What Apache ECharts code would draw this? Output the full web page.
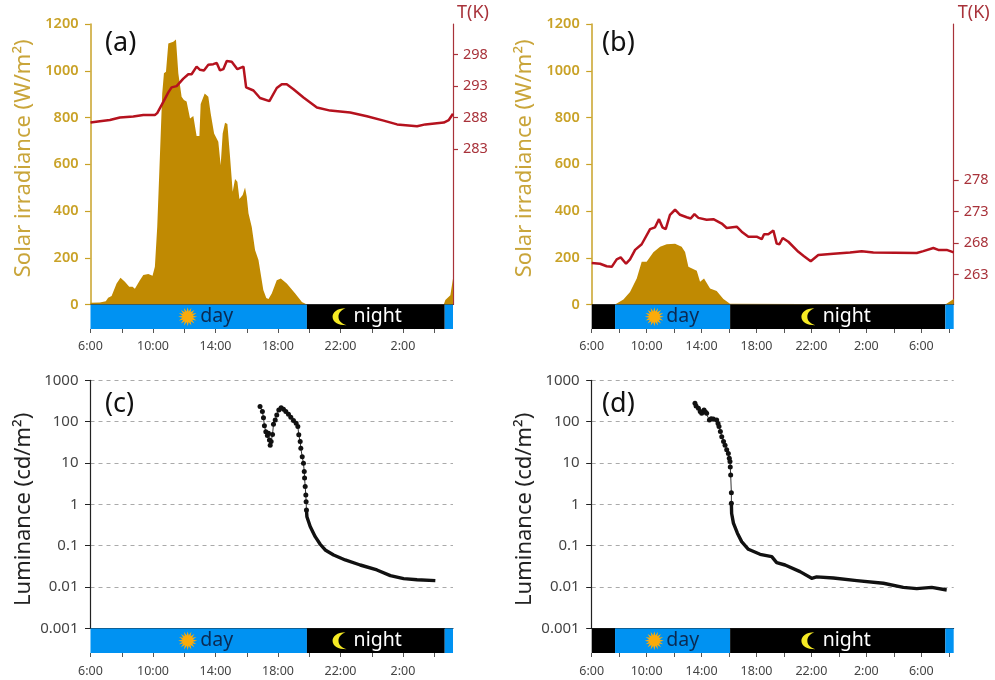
<!DOCTYPE html>
<html>
<head>
<meta charset="utf-8">
<style>html,body{margin:0;padding:0;background:#fff}#c{width:995px;height:680px}</style>
<script src="https://cdn.jsdelivr.net/npm/echarts@6/dist/echarts.min.js"></script>
</head>
<body>
<div id="c"></div>
<script>
// ---- data: [hour since 0:00 of day one, value] ----
const solarA = [[6,7],[6.6,9],[6.98,14],[7.13,29],[7.35,36],[7.67,90],[7.92,114],[8.2,97],[8.48,76],[8.69,76],[8.84,67],[9.16,104],[9.38,126],[9.7,130],[9.97,123],[10.12,161],[10.27,332],[10.44,632],[10.59,903],[10.7,989],[10.83,996],[10.98,1117],[11.3,1124],[11.47,1134],[11.62,989],[11.83,889],[11.98,875],[12.15,868],[12.37,796],[12.58,806],[12.79,721],[12.97,721],[13.05,858],[13.31,903],[13.54,889],[13.69,818],[13.91,732],[14.18,696],[14.33,596],[14.46,732],[14.61,778],[14.76,772],[14.93,632],[15.1,482],[15.25,537],[15.4,525],[15.53,451],[15.74,468],[15.89,501],[16,461],[16.11,390],[16.32,332],[16.53,233],[16.75,190],[17.06,62],[17.25,28],[17.39,23],[17.6,47],[17.92,104],[18.18,111],[18.56,90],[19.1,47],[19.53,11],[19.85,0],[28.61,0],[28.71,19],[29.03,40],[29.2,111]];
const tempA = [[6,287.2],[6.6,287.4],[7.24,287.6],[7.88,288],[8.74,288.15],[9.38,288.4],[10.12,288.4],[10.27,288.7],[10.66,290.5],[10.98,292],[11.19,292.8],[11.51,293],[11.94,294.2],[12.26,294.9],[12.47,294.9],[12.79,296.1],[13.01,295.6],[13.26,295.5],[13.54,296.4],[13.86,296.5],[14.08,296.7],[14.29,295.5],[14.5,295.7],[14.72,297],[15.04,296.9],[15.4,295.7],[15.79,296.1],[15.96,292.8],[16.43,292.3],[16.85,291.1],[17.45,290.6],[17.92,292.7],[18.24,293.3],[18.56,293.3],[18.99,292.5],[19.63,291.2],[20.49,289.6],[21.34,289.1],[22.62,288.8],[23.69,288.2],[24.76,287.5],[25.62,286.9],[26.9,286.6],[27.43,286.9],[28.61,287.2],[28.93,287.6],[29.2,288.6]];
const solarB = [[7.7,0],[8.31,21],[8.79,54],[9.28,111],[9.64,183],[10,183],[10.49,223],[10.98,247],[11.46,258],[12.07,260],[12.55,247],[12.8,225],[13.04,161],[13.65,144],[13.89,97],[14.18,111],[14.62,68],[15.1,58],[15.59,23],[16.07,3],[16.2,0],[31.75,0],[32.36,23]];
const tempB = [[6,264.8],[6.61,264.7],[7.09,264.3],[7.46,264.2],[7.82,265.4],[8.11,265.7],[8.5,264.7],[8.79,265.4],[9.16,266.9],[9.64,267.8],[10.25,270.2],[10.61,270.5],[10.9,271.8],[11.15,270.5],[11.39,270.2],[11.7,272.5],[12.07,273.3],[12.43,272.5],[12.92,272.1],[13.21,271.9],[13.48,272.6],[13.77,272],[14.37,271.7],[14.86,271.8],[15.47,271.1],[15.83,270.4],[16.56,270.6],[16.92,269.8],[17.41,269],[18.01,269],[18.38,268.6],[18.55,269.4],[18.86,269.4],[19.23,270],[19.47,267.9],[19.67,267.8],[19.91,268.8],[20.32,268.2],[21.05,266.6],[21.46,265.9],[21.95,265.1],[22.5,266.1],[23.6,266.3],[24.81,266.5],[25.66,266.7],[26.51,266.5],[29.67,266.4],[30.15,266.7],[30.88,267.2],[31.24,266.9],[31.85,266.9],[32.36,266.5]];
const lumCDots = [[16.85,231],[17,175],[17.07,125],[17.13,80],[17.22,57],[17.32,46],[17.39,52],[17.45,36],[17.5,27],[17.56,33],[17.65,49],[17.71,86],[17.82,110],[17.92,145],[18.05,191],[18.2,218],[18.35,199],[18.5,175],[18.67,150],[18.82,127],[18.99,106],[19.16,91],[19.27,76],[19.33,48],[19.42,33],[19.46,22.6],[19.55,14.2],[19.63,9.8],[19.68,6.2],[19.7,4.3],[19.74,2.7],[19.78,1.68],[19.8,1.16],[19.82,0.73]];
const lumCTail = [[19.82,0.73],[19.85,0.5],[20.06,0.29],[20.38,0.165],[20.7,0.108],[21.02,0.0785],[21.56,0.0594],[22.3,0.045],[23.26,0.034],[24.33,0.0258],[25.19,0.0188],[26.04,0.0159],[26.9,0.015],[28.07,0.0142]];
const lumDDots = [[13.52,278],[13.6,240],[13.77,210],[13.9,175],[14.01,159],[14.18,191],[14.28,170],[14.37,159],[14.57,110],[14.7,118],[14.86,116],[15.1,110],[15.2,90],[15.27,76],[15.37,58],[15.47,43],[15.6,33],[15.71,27],[15.83,21],[15.95,17],[16.02,13],[16.07,10.8],[16.09,8],[16.12,5.1],[16.17,1.9],[16.17,1.06]];
const lumDTail = [[16.17,1.06],[16.19,0.6],[16.32,0.35],[16.61,0.2],[16.92,0.125],[17.41,0.0815],[18.26,0.0617],[19.11,0.0542],[19.47,0.0388],[20.08,0.034],[21.17,0.0235],[22.02,0.0162],[22.38,0.0175],[23.6,0.0165],[25.3,0.0142],[27.24,0.0123],[28.69,0.0098],[29.67,0.0091],[30.76,0.0098],[31.85,0.00845]];

// [from hour, to hour, 0 = day / 1 = night]
const bandsA = [[6,19.85,0],[19.85,28.67,1],[28.67,29.2,0]];
const bandsB = [[6,7.7,1],[7.7,16.08,0],[16.08,31.75,1],[31.75,32.36,0]];

const minorTicksA = [6,8,10,12,14,16,18,20,22,24,26,28];
const labelTicksA = [6,10,14,18,22,26];
const minorTicksB = [6,8,10,12,14,16,18,20,22,24,26,28,30,32];
const labelTicksB = [6,10,14,18,22,26,30];
const tempTicksA = [283,288,293,298];
const tempTicksB = [263,268,273,278];
const lumTicks = [0.001,0.01,0.1,1,10,100,1000];

const GOLD='#c9a227', GOLDFILL='#c08a02', RED='#b5121e', REDTXT='#a8323a', BLUE='#0092f2', TXT='#444';
const FONT='"Noto Sans", sans-serif';

function sunPath(){
  let p=[];
  for(let i=0;i<32;i++){
    const r=i%2?5.6:10, a=i*Math.PI/16;
    p.push((i?'L':'M')+(10+r*Math.cos(a)).toFixed(2)+','+(10+r*Math.sin(a)).toFixed(2));
  }
  return 'path://'+p.join(' ')+' Z';
}
const moonPath='path://M12,0 C4,0 0,5 0,10 C0,16 5,20 13,20 C8,18 5.5,14.5 5.5,10 C5.5,5.5 8,2 12,0 Z';

const grid=[],xAxis=[],yAxis=[],series=[],title=[];
function hourLabel(v){return (Math.round(v)%24)+':00';}

function band(left,width,top,h,xmax,bands,minor,major,pos,labelGap){
  const gi=grid.length;
  grid.push({left,width,top,height:h});
  xAxis.push({type:'value',gridIndex:gi,min:6,max:xmax,splitLine:{show:false},
    axisLine:{show:false},
    axisTick:{show:true,customValues:minor,length:4,lineStyle:{color:'#555',width:1}},
    axisLabel:{show:true,customValues:major,formatter:hourLabel,color:TXT,fontSize:12.5,fontFamily:FONT,margin:labelGap}});
  const yi=yAxis.length;
  yAxis.push({type:'value',gridIndex:gi,min:0,max:1,show:false});
  series.push({type:'custom',xAxisIndex:xAxis.length-1,yAxisIndex:yi,silent:true,
    data:bands,encode:{x:[0,1],y:2},clip:true,
    renderItem(params,api){
      const a=api.coord([api.value(0),1]), b=api.coord([api.value(1),0]);
      return {type:'rect',shape:{x:a[0],y:a[1],width:b[0]-a[0],height:b[1]-a[1]},
        style:{fill:api.value(2)?'#000':BLUE}};
    }});
  const marks=[{at:pos[0],sym:sunPath(),size:[19,19],color:'#fbab0a'},
               {at:pos[2],sym:moonPath,size:[14,17],color:'#f5ea24'}];
  marks.forEach(m=>series.push({type:'scatter',xAxisIndex:xAxis.length-1,yAxisIndex:yi,silent:true,z:5,
    symbol:m.sym,symbolSize:m.size,itemStyle:{color:m.color,opacity:1},data:[[m.at,0.5]]}));
  [['day',pos[1],'#0b2a52'],['night',pos[3],'#fff']].forEach(t=>series.push({type:'scatter',
    xAxisIndex:xAxis.length-1,yAxisIndex:yi,silent:true,z:5,symbolSize:0,itemStyle:{opacity:1},data:[[t[1],0.5]],
    label:{show:true,position:'inside',formatter:t[0],color:t[2],fontSize:19.5,fontFamily:FONT}}));
}

function panelTop(left,width,xmax,solar,temp,tempTicks,bands,minor,major,pos,letter,letterLeft){
  const gi=grid.length, top=24, h=280.5;
  grid.push({left,width,top,height:h});
  xAxis.push({type:'value',gridIndex:gi,min:6,max:xmax,splitLine:{show:false},
    axisLine:{show:true,onZero:false,lineStyle:{color:'#333',width:1}},axisTick:{show:false},axisLabel:{show:false}});
  const xi=xAxis.length-1, y0=yAxis.length;
  yAxis.push({type:'value',gridIndex:gi,min:0,max:1200,interval:200,position:'left',splitLine:{show:false},
    name:'Solar irradiance (W/m²)',nameLocation:'middle',nameRotate:90,nameGap:56,
    nameTextStyle:{color:'#c9a53a',fontSize:22,fontFamily:FONT,padding:[0,0,0,12]},
    axisLine:{show:true,onZero:false,lineStyle:{color:GOLD,width:1.5}},
    axisTick:{show:true,length:5.5,lineStyle:{color:GOLD,width:1.2}},
    axisLabel:{color:GOLD,fontSize:14.5,fontWeight:600,fontFamily:FONT,margin:12,formatter:v=>String(v)}});
  yAxis.push({type:'value',gridIndex:gi,min:258.2,max:302.9,position:'right',splitLine:{show:false},
    name:'T(K)',nameLocation:'end',nameGap:-2,
    nameTextStyle:{color:REDTXT,fontSize:18,fontFamily:FONT,align:'center',padding:[0,0,4,40]},
    axisLine:{show:true,onZero:false,lineStyle:{color:REDTXT,width:1.2}},
    axisTick:{show:true,customValues:tempTicks,length:5,lineStyle:{color:REDTXT,width:1.2}},
    axisLabel:{customValues:tempTicks,color:REDTXT,fontSize:14.5,fontFamily:FONT,margin:10}});
  series.push({type:'line',xAxisIndex:xi,yAxisIndex:y0,data:solar,showSymbol:false,silent:true,z:2,
    lineStyle:{width:0},areaStyle:{color:GOLDFILL,opacity:1}});
  series.push({type:'line',xAxisIndex:xi,yAxisIndex:y0+1,data:temp,showSymbol:false,silent:true,z:3,
    lineStyle:{color:RED,width:2.5}});
  title.push({text:letter,left:letterLeft,top:25,textStyle:{color:'#111',fontSize:27,fontWeight:'normal',fontFamily:FONT}});
  band(left,width,top+h,24.5,xmax,bands,minor,major,pos,11);
}

function panelLum(left,width,xmax,dots,tail,bands,minor,major,pos,letter,letterLeft){
  const gi=grid.length, top=380.3, h=248;
  grid.push({left,width,top,height:h});
  xAxis.push({type:'value',gridIndex:gi,min:6,max:xmax,splitLine:{show:false},
    axisLine:{show:true,onZero:false,lineStyle:{color:'#222',width:1}},axisTick:{show:false},axisLabel:{show:false}});
  const xi=xAxis.length-1, yi=yAxis.length;
  yAxis.push({type:'log',logBase:10,gridIndex:gi,min:0.001,max:1000,position:'left',
    name:'Luminance (cd/m²)',nameLocation:'middle',nameRotate:90,nameGap:56,
    nameTextStyle:{color:'#222',fontSize:22,fontFamily:FONT,padding:[0,10,0,0]},
    splitLine:{show:true,lineStyle:{color:'#aaa',type:[4,4],width:1}},
    minorTick:{show:false},minorSplitLine:{show:false},
    axisLine:{show:true,onZero:false,lineStyle:{color:'#222',width:1.2}},
    axisTick:{show:true,length:5.5,lineStyle:{color:'#222',width:1}},
    axisLabel:{color:TXT,fontSize:15,fontFamily:FONT,margin:12,
      formatter:v=>String(lumTicks.find(t=>Math.abs(Math.log10(t)-Math.log10(v))<1e-6))}});
  series.push({type:'line',xAxisIndex:xi,yAxisIndex:yi,data:dots,silent:true,z:3,showSymbol:true,showAllSymbol:true,
    symbol:'circle',symbolSize:5,itemStyle:{color:'#111'},lineStyle:{color:'#333',width:1}});
  series.push({type:'line',xAxisIndex:xi,yAxisIndex:yi,data:tail,silent:true,z:3,showSymbol:false,
    lineStyle:{color:'#111',width:3.4,join:'round'}});
  title.push({text:letter,left:letterLeft,top:386,textStyle:{color:'#111',fontSize:27,fontWeight:'normal',fontFamily:FONT}});
  band(left,width,top+h,24.7,xmax,bands,minor,major,pos,12);
}

const posA=[12.22,14.08,21.94,24.38], posB=[10.56,12.63,21.78,24.57];
panelTop(90.5,362.5,29.2,solarA,tempA,tempTicksA,bandsA,minorTicksA,labelTicksA,posA,'(a)',100);
panelTop(591.7,362,32.36,solarB,tempB,tempTicksB,bandsB,minorTicksB,labelTicksB,posB,'(b)',597);
panelLum(90.5,362.5,29.2,lumCDots,lumCTail,bandsA,minorTicksA,labelTicksA,posA,'(c)',100);
panelLum(591.7,362,32.36,lumDDots,lumDTail,bandsB,minorTicksB,labelTicksB,posB,'(d)',597);

const chart=echarts.init(document.getElementById('c'),null,{renderer:'canvas'});
chart.setOption({animation:false,backgroundColor:'#fff',title,grid,xAxis,yAxis,series,tooltip:{show:false},legend:{show:false}});
</script>
</body>
</html>
